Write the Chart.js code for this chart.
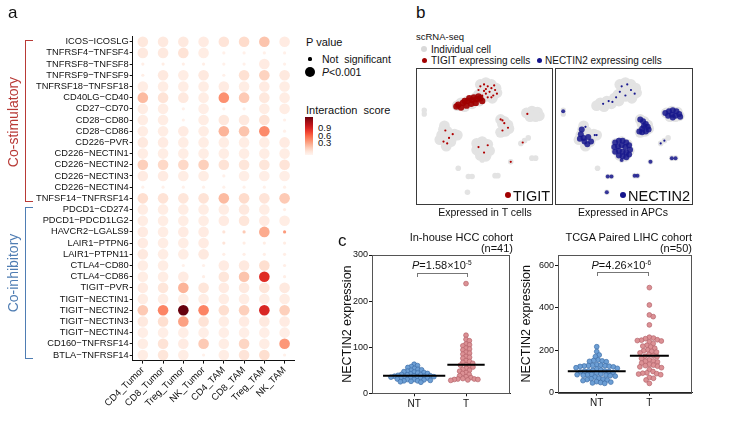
<!DOCTYPE html>
<html>
<head>
<meta charset="utf-8">
<script src="https://cdn.jsdelivr.net/npm/chart.js@4.4.1/dist/chart.umd.min.js"></script>
<style>
body{margin:0;background:#fff;}
#page{position:relative;width:737px;height:425px;overflow:hidden;font-family:'Liberation Sans',Arial,sans-serif;color:#111;}
.t{position:absolute;white-space:nowrap;line-height:1;}
canvas{position:absolute;}
.dot{position:absolute;border-radius:50%;}
.box{position:absolute;border:1px solid #3a3a3a;box-sizing:border-box;}
.brk{position:absolute;box-sizing:border-box;}
sup{font-size:0.6em;vertical-align:0.55em;line-height:0;}
</style>
</head>
<body>
<div id="page">
  <!-- panel a -->
  <canvas id="bubble" width="300" height="425" style="left:0;top:0"></canvas>
  <div class="t" style="left:8px;top:4px;font-size:17px">a</div>
  <div class="brk" style="left:25px;top:40px;width:8px;height:162px;border:1.5px solid #b83a36;border-right:none"></div>
  <div class="t" style="left:13px;top:122px;font-size:14px;color:#b83a36;transform:translate(-50%,-50%) rotate(-90deg)">Co-stimulatory</div>
  <div class="brk" style="left:25px;top:207px;width:8px;height:152px;border:1.5px solid #4f7db3;border-right:none"></div>
  <div class="t" style="left:13px;top:273px;font-size:14px;color:#4f7db3;transform:translate(-50%,-50%) rotate(-90deg)">Co-inhibitory</div>

  <div class="t" style="left:306px;top:37px;font-size:11px">P value</div>
  <div class="dot" style="left:308.4px;top:57.4px;width:3.2px;height:3.2px;background:#000"></div>
  <div class="t" style="left:322px;top:53.5px;font-size:10.5px">Not&nbsp; significant</div>
  <div class="dot" style="left:305px;top:67px;width:10px;height:10px;background:#000"></div>
  <div class="t" style="left:322px;top:66.5px;font-size:10.5px"><i>P</i>&lt;0.001</div>
  <div class="t" style="left:306px;top:104.5px;font-size:11px">Interaction&nbsp; score</div>
  <div id="cbar" style="position:absolute;left:305px;top:117px;width:8px;height:38px"></div>
  <div class="t" style="left:318px;top:122.5px;font-size:9.5px">0.9</div>
  <div class="t" style="left:318px;top:130.5px;font-size:9.5px">0.6</div>
  <div class="t" style="left:318px;top:138px;font-size:9.5px">0.3</div>

  <!-- panel b -->
  <div class="t" style="left:416px;top:4px;font-size:17px">b</div>
  <div class="t" style="left:416px;top:32px;font-size:9.5px">scRNA-seq</div>
  <div class="dot" style="left:421px;top:46.3px;width:6px;height:6px;background:#d9d9d9"></div>
  <div class="t" style="left:431px;top:44.5px;font-size:10px">Individual cell</div>
  <div class="dot" style="left:421.5px;top:58.2px;width:5px;height:5px;background:#a10000"></div>
  <div class="t" style="left:431px;top:56px;font-size:10px">TIGIT expressing cells</div>
  <div class="dot" style="left:536.5px;top:58.2px;width:5px;height:5px;background:#14148c"></div>
  <div class="t" style="left:545px;top:56px;font-size:10px">NECTIN2 expressing cells</div>

  <canvas id="umapT" width="137" height="137" style="left:416px;top:68px"></canvas>
  <div class="box" style="left:416px;top:68px;width:137px;height:137px"></div>
  <canvas id="umapN" width="138" height="137" style="left:555px;top:68px"></canvas>
  <div class="box" style="left:555px;top:68px;width:138px;height:137px"></div>
  <div class="dot" style="left:505px;top:192px;width:6px;height:6px;background:#a10000"></div>
  <div class="t" style="left:513px;top:188.5px;font-size:14.5px">TIGIT</div>
  <div class="dot" style="left:620px;top:192px;width:6px;height:6px;background:#14148c"></div>
  <div class="t" style="left:628px;top:188.5px;font-size:14.5px">NECTIN2</div>
  <div class="t" style="left:485px;top:207px;font-size:10.5px;transform:translateX(-50%)">Expressed in T cells</div>
  <div class="t" style="left:623px;top:207px;font-size:10.5px;transform:translateX(-50%)">Expressed in APCs</div>

  <!-- panel c -->
  <canvas id="swarmA" width="180" height="200" style="left:335px;top:225px"></canvas>
  <canvas id="swarmB" width="222" height="200" style="left:515px;top:225px"></canvas>
  <div class="t" style="left:338px;top:232px;font-size:17px">c</div>
  <div class="t" style="right:224px;top:231.5px;font-size:11px">In-house HCC cohort</div>
  <div class="t" style="right:224px;top:243px;font-size:11px">(n=41)</div>
  <div class="t" style="right:45px;top:231.5px;font-size:11px">TCGA Paired LIHC cohort</div>
  <div class="t" style="right:45px;top:243px;font-size:11px">(n=50)</div>
  <div class="t" style="left:412px;top:260px;font-size:11px"><i>P</i>=1.58×10<sup>-5</sup></div>
  <div class="brk" style="left:417px;top:273px;width:51px;height:4px;border:1px solid #777;border-bottom:none"></div>
  <div class="t" style="left:591.5px;top:259.5px;font-size:11px"><i>P</i>=4.26×10<sup>-6</sup></div>
  <div class="brk" style="left:597px;top:272px;width:52px;height:4px;border:1px solid #777;border-bottom:none"></div>
</div>

<script>
// ---- panel a data ----
const cellTypes = ['CD4_Tumor', 'CD8_Tumor', 'Treg_Tumor', 'NK_Tumor', 'CD4_TAM', 'CD8_TAM', 'Treg_TAM', 'NK_TAM'];
const pairNames = [
  'ICOS−ICOSLG', 'TNFRSF4−TNFSF4', 'TNFRSF8−TNFSF8', 'TNFRSF9−TNFSF9', 'TNFRSF18−TNFSF18',
  'CD40LG−CD40', 'CD27−CD70', 'CD28−CD80', 'CD28−CD86', 'CD226−PVR', 'CD226−NECTIN1',
  'CD226−NECTIN2', 'CD226−NECTIN3', 'CD226−NECTIN4', 'TNFSF14−TNFRSF14',
  'PDCD1−CD274', 'PDCD1−PDCD1LG2', 'HAVCR2−LGALS9', 'LAIR1−PTPN6', 'LAIR1−PTPN11',
  'CTLA4−CD80', 'CTLA4−CD86', 'TIGIT−PVR', 'TIGIT−NECTIN1', 'TIGIT−NECTIN2',
  'TIGIT−NECTIN3', 'TIGIT−NECTIN4', 'CD160−TNFRSF14', 'BTLA−TNFRSF14'
];
const interactionScore = [
  [0.08, 0.07, 0.07, 0.06, 0.10, 0.14, 0.22, 0.06],
  [0.07, 0.07, 0.11, 0.05, 0.03, 0.03, 0.03, 0.03],
  [0.04, 0.05, 0.04, 0.04, 0.03, 0.03, 0.06, 0.03],
  [0.04, 0.07, 0.05, 0.07, 0.03, 0.12, 0.17, 0.07],
  [0.05, 0.05, 0.05, 0.05, 0.06, 0.05, 0.06, 0.05],
  [0.25, 0.11, 0.07, 0.05, 0.38, 0.20, 0.08, 0.05],
  [0.05, 0.05, 0.03, 0.04, 0.03, 0.03, 0.05, 0.05],
  [0.05, 0.05, 0.03, 0.05, 0.08, 0.07, 0.11, 0.03],
  [0.05, 0.05, 0.06, 0.05, 0.27, 0.22, 0.40, 0.03],
  [0.07, 0.06, 0.05, 0.05, 0.05, 0.05, 0.05, 0.06],
  [0.05, 0.05, 0.05, 0.05, 0.05, 0.05, 0.05, 0.05],
  [0.18, 0.15, 0.15, 0.18, 0.11, 0.09, 0.09, 0.10],
  [0.06, 0.06, 0.05, 0.05, 0.03, 0.04, 0.04, 0.04],
  [0.03, 0.03, 0.03, 0.03, 0.03, 0.03, 0.03, 0.03],
  [0.13, 0.11, 0.09, 0.11, 0.25, 0.14, 0.10, 0.20],
  [0.05, 0.05, 0.05, 0.05, 0.05, 0.07, 0.05, 0.04],
  [0.05, 0.05, 0.05, 0.05, 0.06, 0.09, 0.06, 0.05],
  [0.06, 0.05, 0.06, 0.06, 0.10, 0.20, 0.30, 0.35],
  [0.06, 0.05, 0.05, 0.06, 0.10, 0.05, 0.05, 0.05],
  [0.07, 0.05, 0.05, 0.07, 0.04, 0.04, 0.04, 0.04],
  [0.05, 0.05, 0.03, 0.03, 0.06, 0.07, 0.13, 0.04],
  [0.05, 0.05, 0.06, 0.04, 0.09, 0.22, 0.68, 0.04],
  [0.06, 0.09, 0.27, 0.09, 0.06, 0.07, 0.09, 0.07],
  [0.05, 0.05, 0.05, 0.05, 0.05, 0.05, 0.05, 0.05],
  [0.20, 0.42, 1.00, 0.42, 0.13, 0.18, 0.70, 0.18],
  [0.07, 0.13, 0.33, 0.11, 0.05, 0.06, 0.07, 0.06],
  [0.04, 0.04, 0.04, 0.04, 0.04, 0.04, 0.04, 0.04],
  [0.05, 0.11, 0.06, 0.20, 0.05, 0.16, 0.05, 0.36],
  [0.05, 0.09, 0.05, 0.03, 0.05, 0.10, 0.13, 0.03]
];
// 1 = P<0.001, 0 = not significant
const significant = [
  [1,1,1,1,1,1,1,1], [1,1,1,1,0,0,0,0], [0,0,0,0,0,0,1,0], [0,1,1,1,0,1,1,1],
  [1,1,1,1,1,1,1,1], [1,1,1,1,1,1,1,1], [1,1,0,1,0,0,1,1], [1,1,0,1,1,1,1,0],
  [1,1,1,1,1,1,1,0], [1,1,1,1,1,1,1,1], [1,1,1,1,1,1,1,1], [1,1,1,1,1,1,1,1],
  [1,1,1,1,0,1,1,1], [0,0,0,0,0,0,0,0], [1,1,1,1,1,1,1,1],
  [1,1,1,1,1,1,1,0], [1,1,1,1,1,1,1,1], [1,1,1,1,0,0,1,0], [1,1,1,1,0,0,0,0],
  [1,1,1,1,0,0,0,0], [1,1,0,0,1,1,1,0], [1,1,1,0,1,1,1,0], [1,1,1,1,1,1,1,1],
  [1,1,1,1,1,1,1,1], [1,1,1,1,1,1,1,1], [1,1,1,1,1,1,1,1], [1,1,1,1,1,1,1,1],
  [1,1,1,1,1,1,1,1], [1,1,1,0,1,1,1,0]
];

// ---- panel b data (UMAP coords, box units) ----
const umapCells = [
  [64,12],[70,10],[76,12],[81,16],[82,21],[77,22],[71,17],[66,18],[62,23],[70,25],[77,27],
  [58,27],[50,30],[43,32],[39,35],[47,36],[55,33],[63,30],[73,13],[68,14],[74,18],[79,19],
  [114,43],[120,41],[126,42],[128,46],[118,47],[124,47],[122,44],[117,44],
  [86,50],[90,52],[94,56],[95,60],[91,63],[86,64],[90,58],[88,55],
  [25,57],[24,61],[28,63],[22,67],[30,68],[36,66],[39,67],[26,73],[32,74],[27,79],[20,72],[27,68],[33,70],
  [60,76],[66,74],[72,77],[60,83],[67,82],[74,84],[64,89],[70,90],[66,78],[70,86],[63,80],[71,81]
];
const umapIslands = [
  [108,76],[112,73],[116,70],[97,96],[83,111],[80,111],[51,112],[55,112],
  [120,92],[124,92],[3,40],[3,44],[50,129],[66,94],[40,103]
];
const tigitDense = [
  [40,34],[45,32],[50,30],[55,29],[60,28],[64,27],[43,37],[49,35],[54,33],[59,32],
  [38,36],[66,30],[47,30],[52,27],[57,26],[62,25]
];
const tigitSparse = [
  [64,14],[68,12],[72,14],[76,16],[80,18],[74,20],[70,22],[66,24],[78,24],[82,22],[72,26],
  [76,26],[68,19],[62,18],[79,13],[70,17],[86,50],[88,51],[90,54],[94,59],[88,62],
  [26,62],[30,70],[24,74],[34,66],[28,76],[62,80],[68,86],[72,78],[110,75],[97,96],[115,44]
];
const nectinDense = [
  [113,43],[117,41],[121,40],[125,41],[128,44],[129,47],[116,46],[120,45],[124,46],[121,48],
  [86,50],[89,52],[92,55],[94,58],[95,61],[92,63],[88,64],[85,63],[90,57],[88,60],
  [59,75],[63,73],[67,73],[71,75],[74,78],[58,80],[62,79],[66,78],[70,80],[75,83],
  [59,85],[63,84],[67,85],[71,86],[74,88],[63,89],[67,90],[71,91],
  [23,61],[22,66],[21,71],[25,70],[26,74],[30,69],[29,77],[33,74]
];
const nectinIslands = [
  [97,96],[83,111],[80,111],[51,112],[55,112],[120,92],[124,92],[3,41],[50,129],[66,94]
];
const nectinSparse = [
  [66,14],[72,12],[60,26],[52,30],[46,33],[76,18],[70,24],[80,22],[64,20],[56,31],
  [112,73],[108,76],[37,67],[39,67],[27,58]
];

// ---- panel c data ----
const groupLabels = ['NT', 'T'];
const hccNT = [63,60,58,56,54,52,51,50,48,47,46,45,44,43,42,41,40,40,39,38,38,37,37,36,36,
  35,35,34,33,33,32,31,30,30,29,28,27,27,26,25,24];
const hccT = [238,126,117,114,107,105,103,98,96,94,89,87,85,80,78,76,71,69,67,65,62,61,59,57,
  54,52,50,48,45,43,41,38,36,34,32,31,31,30,30,29,28];
const tcgaNT = [217,194,178,170,155,152,150,148,146,132,130,129,128,127,126,125,124,122,118,115,
  112,108,105,103,102,101,100,98,95,92,88,86,85,84,83,82,80,78,74,68,66,64,62,60,57,52,50,48,46,44];
const tcgaT = [496,414,367,359,320,262,258,255,250,248,246,244,240,232,224,220,216,210,202,198,
  195,192,188,180,176,172,170,162,155,150,148,145,140,134,130,128,125,122,118,110,
  100,94,92,90,88,85,72,68,60,44];
const hccTicks = [0, 100, 200, 300];
const tcgaTicks = [0, 200, 400, 600];

// ---- helpers ----
const FONT = "'Liberation Sans', Arial, sans-serif";
Chart.defaults.font.family = FONT;
Chart.defaults.color = '#111';

const redsStops = ['#fff5f0','#fee0d2','#fcbba1','#fc9272','#fb6a4a','#ef3b2c','#cb181d','#a50f15','#67000d'];
function hexRgb(h) { return [1,3,5].map(i => parseInt(h.substr(i,2),16)); }
function redColor(v) {
  const t = Math.max(0, Math.min(1, v)) * (redsStops.length - 1);
  const i = Math.min(Math.floor(t), redsStops.length - 2);
  const f = t - i;
  const a = hexRgb(redsStops[i]), b = hexRgb(redsStops[i+1]);
  const c = a.map((x, k) => Math.round(x + (b[k]-x)*f));
  return `rgb(${c[0]},${c[1]},${c[2]})`;
}

// colour bar legend
(function() {
  const stops = [];
  for (let k = 0; k <= 10; k++) stops.push(`${redColor(1 - k/10)} ${k*10}%`);
  document.getElementById('cbar').style.background = `linear-gradient(to bottom, ${stops.join(',')})`;
})();

const noPlugins = {legend:{display:false}, tooltip:{enabled:false}};
const axisGrid = {drawOnChartArea:false, drawTicks:true, tickLength:3, color:'#111', lineWidth:1};

// ---- panel a: bubble grid ----
const bubbleData = [];
pairNames.forEach((p, i) => {
  cellTypes.forEach((c, j) => {
    bubbleData.push({x: c, y: p, score: interactionScore[i][j], sig: significant[i][j]});
  });
});

new Chart(document.getElementById('bubble'), {
  type: 'scatter',
  data: {datasets: [{
    data: bubbleData,
    pointRadius: ctx => (ctx.raw && ctx.raw.sig) ? 5.3 : 1.6,
    pointHoverRadius: ctx => (ctx.raw && ctx.raw.sig) ? 5.3 : 1.6,
    backgroundColor: ctx => redColor(ctx.raw ? ctx.raw.score : 0),
    borderWidth: 0
  }]},
  options: {
    responsive: false, animation: false, devicePixelRatio: 1, clip: false,
    layout: {padding: {top: 36.1, right: 2.7, left: 0, bottom: 0}},
    plugins: noPlugins,
    scales: {
      x: {type: 'category', labels: cellTypes, offset: true, grid: axisGrid,
          border: {color: '#111', width: 1},
          ticks: {font: {size: 9.5}, color: '#111', autoSkip: false, minRotation: 45, maxRotation: 45, padding: 1},
          afterFit: s => { s.height = 64.4; }},
      y: {type: 'category', labels: pairNames, offset: true, grid: axisGrid,
          border: {color: '#111', width: 1},
          ticks: {font: {size: 9.3}, color: '#111', autoSkip: false, padding: 1},
          afterFit: s => { s.width = 132.7; }}
    }
  }
});

// ---- panel b: UMAPs ----
function pts(arr) { return arr.map(p => ({x: p[0], y: p[1]})); }
function umapChart(id, layers) {
  return new Chart(document.getElementById(id), {
    type: 'scatter',
    data: {datasets: layers.map(l => ({
      data: pts(l.data), pointRadius: l.r, pointHoverRadius: l.r,
      backgroundColor: l.color, borderWidth: 0, order: l.order
    }))},
    options: {
      responsive: false, animation: false, devicePixelRatio: 1,
      layout: {padding: 0}, plugins: noPlugins,
      scales: {
        x: {type: 'linear', min: 0, max: 137, display: false},
        y: {type: 'linear', min: 0, max: 137, reverse: true, display: false}
      }
    }
  });
}
umapChart('umapT', [
  {data: umapCells, r: 5.4, color: '#e3e3e3', order: 5},
  {data: umapIslands, r: 2.8, color: '#e3e3e3', order: 4},
  {data: tigitDense, r: 3.2, color: 'rgba(160,0,0,0.92)', order: 2},
  {data: tigitSparse, r: 1.1, color: '#b00000', order: 1}
]);
umapChart('umapN', [
  {data: umapCells, r: 5.4, color: '#e3e3e3', order: 5},
  {data: umapIslands, r: 2.8, color: '#e3e3e3', order: 4},
  {data: nectinDense, r: 3.0, color: 'rgba(22,22,140,0.85)', order: 2},
  {data: nectinIslands, r: 2.0, color: 'rgba(22,22,140,0.85)', order: 2},
  {data: nectinSparse, r: 1.1, color: '#1a1a90', order: 1}
]);

// ---- panel c: dot plots ----
function median(arr) {
  const s = [...arr].sort((a, b) => a - b), n = s.length;
  return n % 2 ? s[(n-1)/2] : (s[n/2-1] + s[n/2]) / 2;
}
const frame = {
  id: 'frame',
  afterDraw(chart) {
    const a = chart.chartArea, ctx = chart.ctx;
    ctx.save();
    ctx.strokeStyle = '#555';
    ctx.lineWidth = 1;
    ctx.strokeRect(Math.round(a.left) + 0.5, Math.round(a.top) + 0.5, Math.round(a.right - a.left) - 1, Math.round(a.bottom - a.top));
    ctx.restore();
  }
};
const blueDot = {bg: '#6d9fd5', bd: '#3d6ea8'};
const redDot = {bg: '#dc9195', bd: '#b5636a'};

function dotPlot(id, nt, t, ticks, ymax, xmin, xmax, pad, titlePad, hwNT, hwT, diam) {
  const mNT = median(nt), mT = median(t);
  const chart = new Chart(document.getElementById(id), {
    type: 'scatter',
    data: {datasets: [
      {data: [{x: 1 - hwNT, y: mNT}, {x: 1 + hwNT, y: mNT}], showLine: true, borderColor: '#000', borderWidth: 2, pointRadius: 0, order: 0},
      {data: [{x: 2 - hwT, y: mT}, {x: 2 + hwT, y: mT}], showLine: true, borderColor: '#000', borderWidth: 2, pointRadius: 0, order: 0},
      {data: [], pointRadius: 2.4, backgroundColor: blueDot.bg, borderColor: blueDot.bd, borderWidth: 0.7, order: 1},
      {data: [], pointRadius: 2.4, backgroundColor: redDot.bg, borderColor: redDot.bd, borderWidth: 0.7, order: 1}
    ]},
    options: {
      responsive: false, animation: false, devicePixelRatio: 1, clip: false,
      layout: {padding: pad}, plugins: noPlugins,
      scales: {
        x: {type: 'linear', min: xmin, max: xmax, grid: axisGrid, border: {color: '#222', width: 1},
            afterBuildTicks: s => { s.ticks = [{value: 1}, {value: 2}]; },
            ticks: {font: {size: 10}, color: '#111', padding: 2, callback: v => groupLabels[v - 1]},
            afterFit: s => { s.height = pad.xh; }},
        y: {type: 'linear', min: 0, max: ymax, grid: axisGrid, border: {color: '#222', width: 1},
            afterBuildTicks: s => { s.ticks = ticks.map(v => ({value: v})); },
            ticks: {font: {size: 9}, color: '#111', padding: 1},
            title: {display: true, text: 'NECTIN2 expression', font: {size: 12.5}, color: '#111', padding: {top: titlePad, bottom: 0}},
            afterFit: s => { s.width = pad.yw; }}
      }
    },
    plugins: [frame]
  });
  // beeswarm placement in pixel space
  const ys = chart.scales.y, xs = chart.scales.x;
  const unit = xs.getPixelForValue(2) - xs.getPixelForValue(1);
  function swarm(values, center) {
    const order = values.map((v, i) => i).sort((a, b) => values[b] - values[a]);
    const placed = [], out = new Array(values.length);
    order.forEach(i => {
      const y = ys.getPixelForValue(values[i]);
      const cands = [0];
      placed.forEach(p => {
        const dy = Math.abs(p.y - y);
        if (dy < diam) { const dx = Math.sqrt(diam*diam - dy*dy); cands.push(p.x + dx, p.x - dx); }
      });
      cands.sort((a, b) => Math.abs(a) - Math.abs(b));
      let x = cands.find(c => placed.every(p => (p.x - c)**2 + (p.y - y)**2 >= diam*diam - 0.01));
      if (x === undefined) x = 0;
      placed.push({x, y});
      out[i] = {x: center + x / unit, y: values[i]};
    });
    return out;
  }
  chart.data.datasets[2].data = swarm(nt, 1);
  chart.data.datasets[3].data = swarm(t, 2);
  chart.update('none');
  return chart;
}

dotPlot('swarmA', hccNT, hccT, hccTicks, 300, 0.187, 2.854,
  {top: 30, right: 2, left: 0, bottom: 0, xh: 31.7, yw: 37}, 5.5, 0.6, 0.36, 3.7);
dotPlot('swarmB', tcgaNT, tcgaT, tcgaTicks, 650, 0.264, 2.81,
  {top: 30, right: 45, left: 0, bottom: 0, xh: 32.3, yw: 43}, 4.5, 0.55, 0.37, 4.2);
</script>
</body>
</html>
